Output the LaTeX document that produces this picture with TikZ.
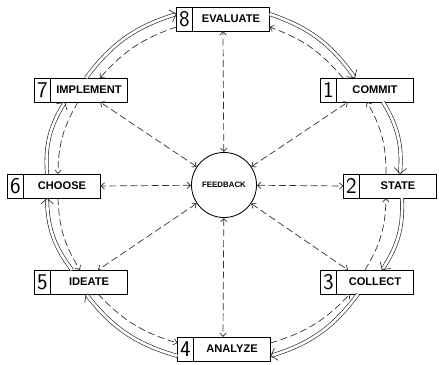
\documentclass[tikz,border=0pt]{standalone}
\usepackage{fontspec}
\newfontfamily\labelfont{Liberation Sans}
\usepackage{tikz}
\usetikzlibrary{arrows.meta, positioning}

\begin{document}
\begin{tikzpicture}[
    x=0.025cm, y=-0.025cm,
    stage/.style={rectangle, draw=black, fill=white, line width=0.6pt, outer sep=0pt, minimum width=1.925cm, minimum height=0.6cm, inner sep=1pt, font=\labelfont\bfseries\fontsize{7.9}{8}\selectfont},
    num/.style={rectangle, draw=black, fill=white, line width=0.6pt, outer sep=0pt, minimum width=0.4cm, minimum height=0.6cm, inner sep=0pt, font=\sffamily\fontsize{16}{16}\selectfont\addfontfeature{FakeStretch=0.7}},
    hub/.style={circle, draw=black, line width=0.6pt, minimum size=1.625cm, inner sep=0pt, font=\labelfont\bfseries\fontsize{5.6}{6}\selectfont},
    ring/.style={draw=black!85, double=white, double distance=1.9pt, line width=0.45pt, -{Straight Barb[length=4pt, width=9pt]}},
    back/.style={draw=black!80, line width=0.5pt, dash pattern=on 5pt off 2.5pt, -{Straight Barb[length=2.5pt, width=4.5pt]}},
    link/.style={draw=black!80, line width=0.5pt, dash pattern=on 5pt off 2.5pt, {Straight Barb[length=2.5pt, width=4.5pt]}-{Straight Barb[length=2.5pt, width=4.5pt]}}
]
\useasboundingbox (0,0) rectangle (439,365);

% stages round the ring
\node (eval) [stage] at (231,19) {EVALUATE};
\node (evaln) [num, left=0pt of eval] {8};
\node (commit) [stage] at (375,90) {COMMIT};
\node (commitn) [num, left=0pt of commit] {1};
\node (state) [stage] at (398,186) {STATE};
\node (staten) [num, left=0pt of state] {2};
\node (collect) [stage] at (375,282) {COLLECT};
\node (collectn) [num, left=0pt of collect] {3};
\node (analyze) [stage] at (232,349) {ANALYZE};
\node (analyzen) [num, left=0pt of analyze] {4};
\node (ideate) [stage] at (89,282) {IDEATE};
\node (ideaten) [num, left=0pt of ideate] {5};
\node (choose) [stage] at (62,186) {CHOOSE};
\node (choosen) [num, left=0pt of choose] {6};
\node (implement) [stage] at (89,90) {IMPLEMENT};
\node (implementn) [num, left=0pt of implement] {7};

\node (hub) [hub] at (224,185) {FEEDBACK};

% forward ring (outer, clockwise)
\draw [ring] ([yshift=0.125cm]eval.east) to[bend left=18] ([xshift=-0.5cm]commit.north);
\draw [ring] ([xshift=0.2cm]commit.south) to[bend left=18] ([xshift=0.05cm]state.north);
\draw [ring] ([xshift=0.1cm]state.south) to[bend left=18] ([xshift=0.175cm]collect.north);
\draw [ring] ([xshift=-0.425cm]collect.south) to[bend left=18] ([yshift=-0.175cm]analyze.east);
\draw [ring] ([yshift=-0.175cm]analyzen.west) to[bend left=18] ([xshift=-0.075cm]ideate.south);
\draw [ring] ([xshift=-0.425cm]ideate.north) to[bend left=18] ([xshift=-0.375cm]choose.south);
\draw [ring] ([xshift=-0.375cm]choose.north) to[bend left=18] ([xshift=-0.6cm]implement.south);
\draw [ring] ([xshift=-0.075cm]implement.north) to[bend left=18] ([yshift=0.125cm]evaln.west);

% backward ring (inner, counterclockwise)
\draw [back] ([xshift=-0.8cm]commit.north) to[bend right=15] ([yshift=-0.2cm]eval.east);
\draw [back] ([yshift=-0.2cm]evaln.west) to[bend right=15] ([xshift=0.275cm]implement.north);
\draw [back] ([xshift=-0.275cm]implement.south) to[bend right=15] ([xshift=-0.1cm]choose.north);
\draw [back] ([xshift=-0.1cm]choose.south) to[bend right=15] ([xshift=-0.225cm]ideate.north);
\draw [back] ([xshift=0.225cm]ideate.south) to[bend right=15] ([yshift=0.15cm]analyzen.west);
\draw [back] ([yshift=0.15cm]analyze.east) to[bend right=15] ([xshift=-0.625cm]collect.south);
\draw [back] ([xshift=-0.25cm]collect.north) to[bend right=15] ([xshift=-0.3cm]state.south);
\draw [back] ([xshift=-0.3cm]state.north) to[bend right=15] ([xshift=-0.2cm]commit.south);

% feedback spokes
\draw [link] (hub) -- ([xshift=-0.2cm]eval.south);
\draw [link] (hub) -- ([xshift=-0.675cm]commit.south);
\draw [link] (hub) -- (staten.west);
\draw [link] (hub) -- ([xshift=-0.675cm]collect.north);
\draw [link] (hub) -- ([xshift=-0.225cm]analyze.north);
\draw [link] (hub) -- ([xshift=0.225cm]ideate.north);
\draw [link] (hub) -- (choose.east);
\draw [link] (hub) -- ([xshift=0.275cm]implement.south);

\end{tikzpicture}
\end{document}
